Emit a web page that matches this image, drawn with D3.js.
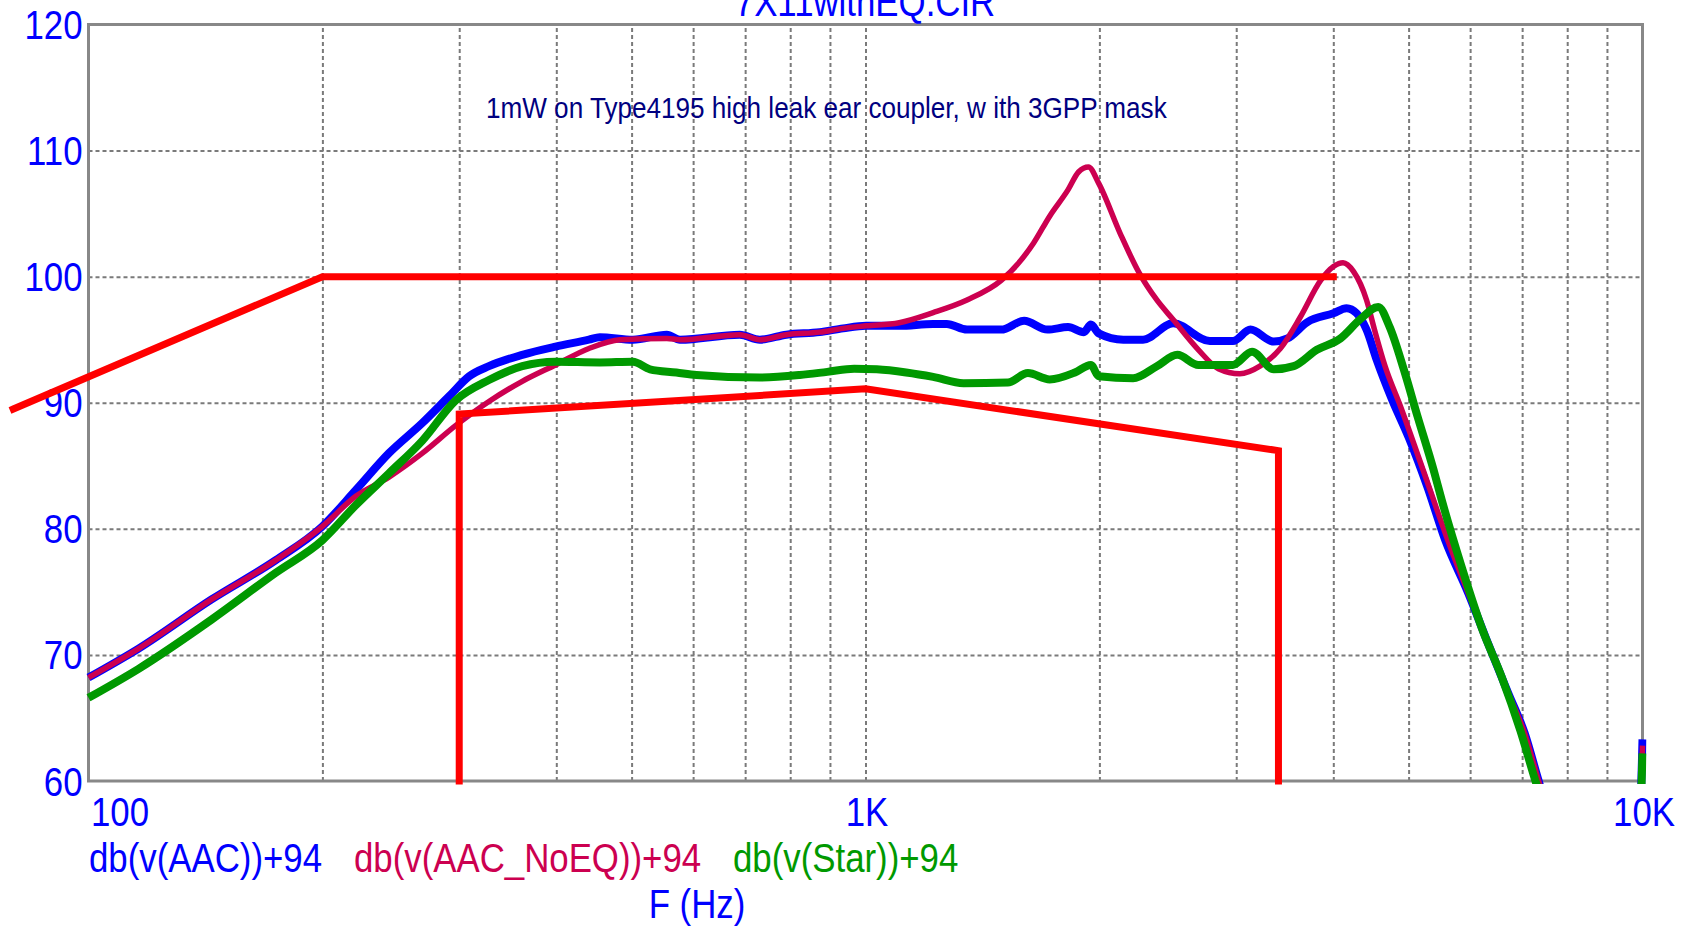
<!DOCTYPE html>
<html>
<head>
<meta charset="utf-8">
<script src="https://cdn.jsdelivr.net/npm/d3@7"></script>
<style>
  html, body { margin: 0; padding: 0; background: #fff; }
  text { font-family: "Liberation Sans", Arial, sans-serif; }
</style>
</head>
<body>
<div id="app"></div>
<script>
// series: frequency (Hz) and level (dB)
const aacFreq = [100, 116, 144, 174, 200, 221, 243.6, 269, 291, 309, 327.6, 361.6, 399, 440.6, 455, 502, 555, 577, 689, 731, 791, 873, 936, 1002, 1105, 1222, 1272, 1351, 1495, 1600, 1715, 1823, 1910, 1950, 1996, 2147, 2276, 2488, 2774, 2971, 3129, 3352, 3492, 3705, 4002, 4160, 4286, 4414, 4549, 4757, 5005, 5288, 5573, 5967, 6328, 6714, 7052, 7352, 7800, 9880, 10000];
const aacDb = [68.2, 70.5, 74.4, 77.5, 80.2, 83.1, 86.0, 88.4, 90.5, 92.1, 92.9, 93.8, 94.45, 95.0, 95.2, 95.0, 95.4, 95.0, 95.4, 95.0, 95.4, 95.6, 95.9, 96.1, 96.1, 96.25, 96.25, 95.8, 95.8, 96.5, 95.8, 96.0, 95.6, 96.2, 95.5, 95.0, 95.0, 96.3, 94.9, 94.9, 95.8, 94.85, 95.1, 96.4, 97.1, 97.5, 97.1, 95.8, 93.4, 90.3, 87.2, 83.3, 79.1, 74.9, 70.9, 67.0, 63.8, 60.0, 55, 55, 63.3];

const noEqFreq = [100, 116, 144, 174, 200, 221, 243.6, 269, 297, 327.6, 361.6, 399, 440.6, 483, 555, 577, 689, 731, 791, 873, 936, 1002, 1105, 1222, 1351, 1495, 1570, 1645, 1726, 1823, 1880, 1936, 1996, 2128, 2250, 2371, 2488, 2682, 2845, 3032, 3218, 3419, 3628, 3853, 4002, 4117, 4248, 4414, 4519, 4663, 4882, 5183, 5678, 5967, 6328, 6714, 7052, 7352, 7800, 9880, 10000];
const noEqDb = [68.2, 70.5, 74.4, 77.5, 80.2, 82.6, 84.1, 86.0, 88.2, 90.1, 91.7, 93.0, 94.3, 95.0, 95.1, 95.0, 95.4, 95.0, 95.4, 95.6, 95.9, 96.1, 96.35, 97.15, 98.15, 99.7, 101.0, 102.65, 104.8, 106.9, 108.3, 108.7, 107.4, 103.4, 100.3, 98.15, 96.6, 94.2, 92.7, 92.3, 92.9, 94.3, 96.8, 99.7, 100.8, 101.1, 100.4, 98.15, 95.8, 92.9, 89.7, 85.2, 78.3, 74.9, 70.9, 67.0, 63.8, 60.0, 55, 55, 62.8];

const starFreq = [100, 116, 144, 174, 200, 221, 243.6, 269, 297, 327.6, 361.6, 399, 455, 502, 528, 571, 606, 731, 823, 893, 967, 1034, 1128, 1222, 1337, 1525, 1618, 1726, 1860, 1950, 1996, 2210, 2371, 2520, 2682, 2971, 3144, 3352, 3557, 3810, 4085, 4329, 4570, 4728, 4932, 5135, 5383, 5515, 5850, 6205, 6584, 6963, 7300, 7800, 9880, 10000];
const starDb = [66.6, 68.9, 72.8, 76.5, 79.1, 81.9, 84.4, 87.0, 90.2, 91.8, 92.9, 93.25, 93.2, 93.25, 92.65, 92.4, 92.2, 92.0, 92.2, 92.45, 92.7, 92.65, 92.4, 92.05, 91.55, 91.6, 92.35, 91.85, 92.4, 93.0, 92.1, 91.95, 92.9, 93.8, 93.0, 93.0, 94.05, 92.65, 92.9, 94.2, 95.1, 96.6, 97.6, 96.0, 92.6, 88.9, 84.7, 82.3, 77.0, 72.2, 68.3, 64.0, 59.8, 55, 55, 62.2];

// 3GPP mask
const maskUpperFreq = [80, 200, 4000];
const maskUpperDb = [89.5, 100, 100];
const maskLowerFreq = [300, 300, 1000, 3400, 3400];
const maskLowerDb = [60, 89.1, 91.1, 86.2, 60];

// axes
const yTicks = [60, 70, 80, 90, 100, 110, 120];
const xTicks = [100, 1000, 10000];
const xTickLabels = ['100', '1K', '10K'];
const gridFreqs = [200, 300, 400, 500, 600, 700, 800, 900, 1000, 2000, 3000, 4000, 5000, 6000, 7000, 8000, 9000];

const seriesNames = ['db(v(AAC))+94', 'db(v(AAC_NoEQ))+94', 'db(v(Star))+94'];
const seriesColors = ['#0000ff', '#cc0050', '#009900'];

const width = 1682;
const height = 928;
const margin = { top: 24.5, right: 39.5, bottom: 147, left: 88.5 };
const innerWidth = width - margin.left - margin.right;
const innerHeight = height - margin.top - margin.bottom;
const narrow = 0.87;

const svg = d3.select('#app').append('svg')
    .attr('width', width).attr('height', height);
const g = svg.append('g')
    .attr('transform', `translate(${margin.left}, ${margin.top})`);

const x = d3.scaleLog().domain([100, 10000]).range([0, innerWidth]);
const y = d3.scaleLinear().domain([60, 120]).range([innerHeight, 0]);

// grid
const gridX = g.append('g').attr('transform', `translate(0, ${innerHeight})`)
    .call(d3.axisBottom(x).tickValues(gridFreqs).tickSize(-innerHeight).tickFormat(''));
const gridY = g.append('g')
    .call(d3.axisLeft(y).tickValues([70, 80, 90, 100, 110]).tickSize(-innerWidth).tickFormat(''));
[gridX, gridY].forEach(a => {
    a.select('.domain').remove();
    a.selectAll('line')
        .attr('stroke', '#7a7a7a')
        .attr('stroke-width', 2)
        .attr('stroke-dasharray', '4,3');
});

g.append('rect')
    .attr('width', innerWidth).attr('height', innerHeight)
    .attr('fill', 'none').attr('stroke', '#888').attr('stroke-width', 3);

// y axis labels
const yAxis = g.append('g').call(d3.axisLeft(y).tickValues(yTicks).tickSize(0));
yAxis.select('.domain').remove();
yAxis.selectAll('text')
    .attr('x', null).attr('dy', null)
    .attr('transform', `translate(-6, 14) scale(${narrow}, 1)`)
    .attr('fill', '#0000ff')
    .style('font-size', '40px')
    .style('font-family', '"Liberation Sans", Arial, sans-serif');

// x axis labels
const xAxis = g.append('g').attr('transform', `translate(0, ${innerHeight})`)
    .call(d3.axisBottom(x).tickValues(xTicks).tickSize(0).tickFormat((d, i) => xTickLabels[i]));
xAxis.select('.domain').remove();
xAxis.selectAll('text')
    .attr('y', null).attr('dy', null)
    .attr('text-anchor', (d, i) => i === 0 ? 'start' : 'middle')
    .attr('transform', (d, i) => `translate(${i === 0 ? 2 : 1}, 45) scale(${narrow}, 1)`)
    .attr('fill', '#0000ff')
    .style('font-size', '40px')
    .style('font-family', '"Liberation Sans", Arial, sans-serif');

// curves, clipped to the plot
svg.append('defs').append('clipPath').attr('id', 'plot-clip')
    .append('rect').attr('x', -6).attr('y', -10)
    .attr('width', innerWidth + 10).attr('height', innerHeight + 13);

const line = d3.line().x(d => x(d[0])).y(d => y(d[1]));
const curve = d3.line().curve(d3.curveMonotoneX).x(d => x(d[0])).y(d => y(d[1]));
const curves = [
    { data: d3.zip(aacFreq, aacDb), color: seriesColors[0], w: 8 },
    { data: d3.zip(noEqFreq, noEqDb), color: seriesColors[1], w: 5.5 },
    { data: d3.zip(starFreq, starDb), color: seriesColors[2], w: 8 }
];
g.append('g').attr('clip-path', 'url(#plot-clip)')
    .selectAll('path').data(curves).join('path')
    .attr('fill', 'none')
    .attr('stroke', d => d.color)
    .attr('stroke-width', d => d.w)
    .attr('stroke-linejoin', 'round')
    .attr('d', d => curve(d.data));

// mask
g.selectAll('path.mask')
    .data([d3.zip(maskUpperFreq, maskUpperDb), d3.zip(maskLowerFreq, maskLowerDb)])
    .join('path').attr('class', 'mask')
    .attr('fill', 'none')
    .attr('stroke', '#ff0000')
    .attr('stroke-width', 7)
    .attr('stroke-linecap', 'square')
    .attr('d', line);

// texts
const label = (tx, ty, txt, color, size, anchor) => svg.append('text')
    .attr('transform', `translate(${tx}, ${ty}) scale(${narrow}, 1)`)
    .attr('text-anchor', anchor || 'start')
    .attr('fill', color)
    .style('font-size', size + 'px')
    .text(txt);

label(865, 16, '7X11withEQ.CIR', '#0000ff', 40, 'middle');
label(486, 118, '1mW on Type4195 high leak ear coupler, w ith 3GPP mask', '#000080', 30);

const legendX = [89, 354, 733];
seriesNames.forEach((n, i) => label(legendX[i], 872, n, seriesColors[i], 40));
label(697, 918, 'F (Hz)', '#0000ff', 40, 'middle');
</script>
</body>
</html>
